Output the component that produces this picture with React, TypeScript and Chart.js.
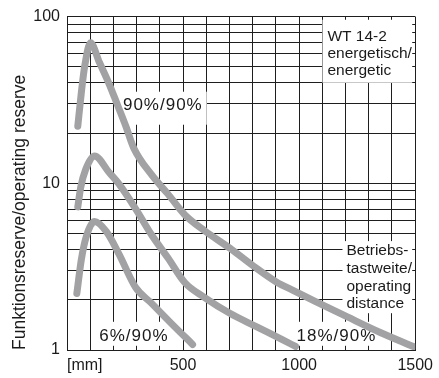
import { useEffect, useRef } from 'react';
import { Chart, registerables } from 'chart.js';

Chart.register(...registerables);

// ---- data (distance in mm, operating reserve) ----
const distance90 = [46.5, 62.1, 76.1, 101.4, 139.4, 181.7, 215.5, 253.5, 287.3, 363.4, 435.2, 507, 591.5, 701.4, 802.8, 900, 984.5, 1069, 1208, 1352, 1492];
const reserve90 = [22.0, 35.4, 50.3, 69.7, 53.2, 39.4, 30.0, 22.0, 16.3, 11.3, 8.61, 6.48, 5.21, 4.08, 3.19, 2.57, 2.24, 1.96, 1.58, 1.27, 1.05];

const distance18 = [46.5, 59.2, 80.3, 118.3, 181.7, 228.2, 295.8, 363.4, 435.2, 507, 591.5, 701.4, 815.5, 929.6, 984.5];
const reserve18 = [7.22, 9.47, 12.1, 14.6, 11.6, 9.73, 7.03, 4.93, 3.56, 2.54, 2.07, 1.66, 1.38, 1.15, 1.05];

const distance6 = [42.3, 62.1, 83.2, 118.3, 169, 224, 295.8, 363.4, 448, 541];
const reserve6 = [2.18, 3.51, 4.80, 5.89, 5.14, 3.76, 2.37, 1.91, 1.45, 1.08];

const xGridValues = [0, 100, 200, 300, 400, 500, 600, 700, 800, 900, 1000, 1100, 1200, 1300, 1400, 1500];
const xLabels = [500, 1000, 1500];
const yGridValues = [1, 2, 3, 4, 5, 6, 7, 8, 9, 10, 20, 30, 40, 50, 60, 70, 80, 90, 100];
const yLabels = [1, 10, 100];

const yTitle = 'Funktionsreserve/operating reserve';
const xUnit = '[mm]';

// text notes: anchored at (mm, reserve) = left edge / centre of first line
const notes = [
  { lines: ['90%/90%'], x: 241, y: 29.2, size: 17, spacing: 1, lh: 17, padX: 4, padTop: 14, padBottom: 19, toRight: false },
  { lines: ['WT 14-2', 'energetisch/', 'energetic'], x: 1122, y: 75.7, size: 15.5, spacing: 0, lh: 17, padX: 5, padTop: 17, padBottom: 12, toRight: true },
  { lines: ['Betriebs-', 'tastweite/', 'operating', 'distance'], x: 1204, y: 3.92, size: 15.5, spacing: 0, lh: 17.7, padX: 4, padTop: 10, padBottom: 9, toRight: true },
  { lines: ['6%/90%'], x: 139, y: 1.2, size: 17, spacing: 1, lh: 17, padX: 3, padTop: 15, padBottom: 9, toRight: false },
  { lines: ['18%/90%'], x: 989, y: 1.2, size: 17, spacing: 1, lh: 17, padX: 3, padTop: 15, padBottom: 9, toRight: false },
];

const FONT = '"Liberation Sans", Arial, sans-serif';
const CURVE = '#a2a2a4';
const GRID = '#1e1e1e';
const TEXT = '#1a1a1a';

const toPoints = (xs: number[], ys: number[]) => xs.map((x, i) => ({ x, y: ys[i] }));

const notesPlugin = {
  id: 'notes',
  beforeDatasetsDraw(chart: any) {
    const { ctx, chartArea } = chart;
    const xs = chart.scales.x;
    const ys = chart.scales.y;
    ctx.save();
    for (const n of notes) {
      ctx.font = `${n.size}px ${FONT}`;
      ctx.letterSpacing = `${n.spacing}px`;
      const left = xs.getPixelForValue(n.x);
      const top = ys.getPixelForValue(n.y);
      const w = Math.max(...n.lines.map((l) => ctx.measureText(l).width));
      const bx0 = left - n.padX;
      const bx1 = n.toRight ? chartArea.right - 3 : left + w + n.padX;
      const by0 = top - n.padTop;
      const by1 = top + n.lh * (n.lines.length - 1) + n.padBottom;
      ctx.fillStyle = '#ffffff';
      ctx.fillRect(bx0, by0, bx1 - bx0, by1 - by0);
      ctx.fillStyle = TEXT;
      ctx.textAlign = 'left';
      ctx.textBaseline = 'middle';
      n.lines.forEach((l, i) => ctx.fillText(l, left, top + i * n.lh));
    }
    ctx.letterSpacing = '0px';
    ctx.restore();
  },
};

export default function App() {
  const ref = useRef<HTMLCanvasElement | null>(null);

  useEffect(() => {
    document.body.style.margin = '0';
    if (!ref.current) return;
    const lineStyle = {
      borderColor: CURVE,
      borderWidth: 7,
      pointRadius: 0,
      borderCapStyle: 'round' as const,
      borderJoinStyle: 'round' as const,
      cubicInterpolationMode: 'monotone' as const,
      fill: false,
    };
    const chart = new Chart(ref.current, {
      type: 'line',
      data: {
        datasets: [
          { label: '90%/90%', data: toPoints(distance90, reserve90), ...lineStyle },
          { label: '18%/90%', data: toPoints(distance18, reserve18), ...lineStyle },
          { label: '6%/90%', data: toPoints(distance6, reserve6), ...lineStyle },
        ],
      },
      options: {
        animation: false,
        responsive: true,
        maintainAspectRatio: false,
        devicePixelRatio: 1,
        layout: { padding: { top: 11, right: 17, left: 0, bottom: 0 } },
        plugins: { legend: { display: false }, tooltip: { enabled: false } },
        scales: {
          x: {
            type: 'linear',
            min: 0,
            max: 1500,
            afterBuildTicks: (s: any) => {
              s.ticks = xGridValues.map((v) => ({ value: v }));
            },
            afterFit: (s: any) => {
              s.height = 28;
            },
            ticks: {
              autoSkip: false,
              maxRotation: 0,
              padding: 6,
              color: TEXT,
              font: { family: FONT, size: 16 },
              callback: (v: any) => (xLabels.includes(Number(v)) ? String(v) : ''),
            },
            grid: { color: GRID, lineWidth: 1, drawTicks: false },
            border: { display: true, color: GRID, width: 1 },
            title: {
              display: true,
              text: xUnit,
              align: 'start',
              color: TEXT,
              font: { family: FONT, size: 16 },
              padding: { top: 0, bottom: 3 },
            },
          },
          y: {
            type: 'logarithmic',
            min: 1,
            max: 100,
            afterBuildTicks: (s: any) => {
              s.ticks = yGridValues.map((v) => ({ value: v }));
            },
            afterFit: (s: any) => {
              s.width = 67;
            },
            ticks: {
              autoSkip: false,
              padding: 7,
              color: TEXT,
              font: { family: FONT, size: 16 },
              callback: (v: any) => (yLabels.includes(Number(v)) ? String(v) : ''),
            },
            grid: { color: GRID, lineWidth: 1, drawTicks: false },
            border: { display: true, color: GRID, width: 1 },
            title: {
              display: true,
              text: yTitle,
              align: 'start',
              color: TEXT,
              font: { family: FONT, size: 17.5 },
              padding: { top: 10, bottom: 0 },
            },
          },
        },
      },
      plugins: [notesPlugin],
    });
    return () => chart.destroy();
  }, []);

  return (
    <div style={{ width: 439, height: 378, position: 'relative' }}>
      <canvas ref={ref} />
    </div>
  );
}
